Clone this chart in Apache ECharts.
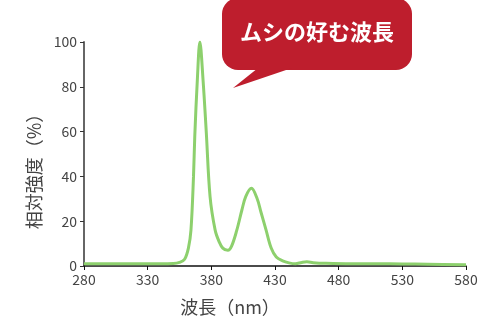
<!DOCTYPE html>
<html>
<head>
<meta charset="utf-8">
<script src="https://cdn.jsdelivr.net/npm/echarts@6/dist/echarts.min.js"></script>
<style>
  html, body { margin: 0; padding: 0; background: #fff; }
  #chart { width: 481px; height: 316px; }
</style>
</head>
<body>
<div id="chart"></div>
<script>
// 波長 (nm)
var wavelength = [280, 300, 320, 340, 350, 355, 359, 362, 364, 366, 367, 369, 371, 373.5, 376, 379, 383, 386, 389, 393, 396, 400, 404, 407, 411.5, 416, 419, 423, 427, 431, 436, 441, 446, 451, 455, 460, 470, 490, 510, 530, 550, 580];
// 相対強度 (%)
var intensity = [1, 1, 1, 1, 1.1, 1.6, 3, 8, 16, 40, 58, 83, 100, 83, 60, 31, 16, 11, 8, 7, 9, 16, 25, 31, 34.7, 30, 24, 16, 8, 4, 2.3, 1.4, 1.0, 1.6, 1.9, 1.5, 1.2, 1.0, 1.0, 0.9, 0.8, 0.6];
var xTicks = [280, 330, 380, 430, 480, 530, 580];
var yTicks = [0, 20, 40, 60, 80, 100];
var bubbleText = 'ムシの好む波長';

var font = '"Noto Sans CJK JP", "Noto Sans", sans-serif';
var chart = echarts.init(document.getElementById('chart'));

var points = wavelength.map(function (w, i) { return [w, intensity[i]]; });

chart.setOption({
  animation: false,
  grid: { left: 84, right: 15, top: 42, bottom: 50, containLabel: false, outerBoundsMode: 'none' },
  xAxis: {
    type: 'value',
    min: xTicks[0],
    max: xTicks[xTicks.length - 1],
    interval: 50,
    name: '波長（nm）',
    nameLocation: 'middle',
    nameGap: 32,
    nameTextStyle: { fontFamily: font, fontSize: 18, color: '#444', padding: [0, 90, 0, 0] },
    axisLine: { lineStyle: { color: '#111', width: 1.5 } },
    axisTick: { show: true, length: 4, lineStyle: { color: '#111' } },
    axisLabel: { fontFamily: font, fontSize: 14, color: '#444', margin: 7 },
    splitLine: { show: false }
  },
  yAxis: {
    type: 'value',
    min: yTicks[0],
    max: yTicks[yTicks.length - 1],
    interval: 20,
    name: '相対強度（%）',
    nameLocation: 'middle',
    nameGap: 37,
    nameRotate: 90,
    nameTextStyle: { fontFamily: font, fontSize: 18, color: '#444', padding: [0, 26, 0, 0] },
    axisLine: { show: true, lineStyle: { color: '#666', width: 2 } },
    axisTick: { show: true, length: 4, lineStyle: { color: '#333' } },
    axisLabel: { fontFamily: font, fontSize: 14, color: '#444', margin: 7 },
    splitLine: { show: false }
  },
  series: [{
    type: 'line',
    data: points,
    smooth: 0.35,
    symbol: 'none',
    lineStyle: { color: '#8dd06d', width: 3 },
    z: 3
  }],
  graphic: [
    {
      type: 'rect',
      shape: { x: 222, y: -2, width: 190, height: 72, r: 16 },
      style: { fill: '#be1e2d' },
      z: 10
    },
    {
      type: 'polygon',
      shape: { points: [[258, 68], [292, 68], [233, 88]] },
      style: { fill: '#be1e2d' },
      z: 10
    },
    {
      type: 'text',
      x: 317,
      y: 32,
      style: {
        text: bubbleText,
        fill: '#fff',
        font: 'bold 22px ' + font,
        align: 'center',
        verticalAlign: 'middle'
      },
      z: 11
    }
  ]
});
</script>
</body>
</html>
